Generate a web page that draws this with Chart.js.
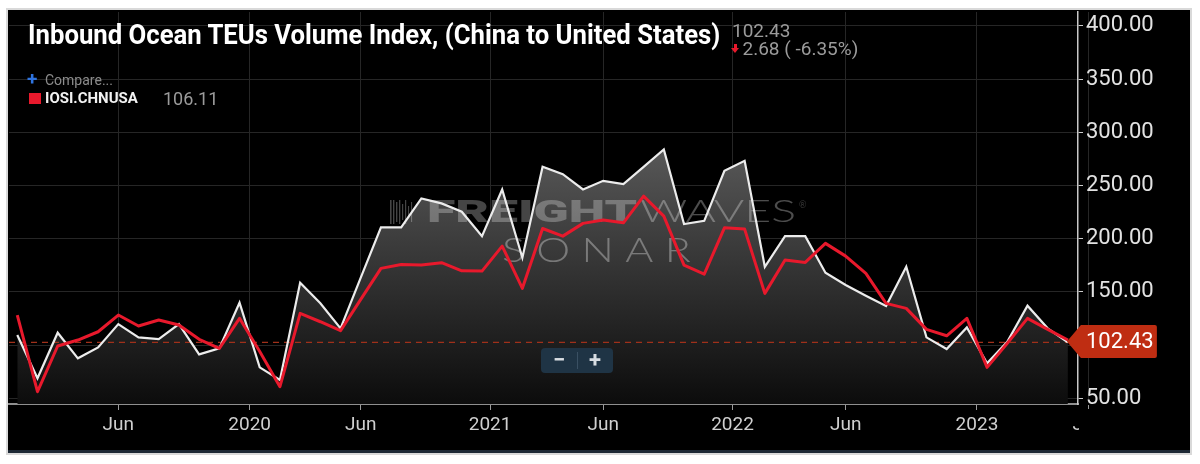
<!DOCTYPE html>
<html>
<head>
<meta charset="utf-8">
<script src="https://cdn.jsdelivr.net/npm/chart.js@4.4.0/dist/chart.umd.min.js"></script>
<style>
  html, body { margin:0; padding:0; background:#ffffff; width:1200px; height:464px; overflow:hidden; font-family: Roboto, "Open Sans", sans-serif; }
  #panel { position:absolute; left:8px; top:10px; width:1182px; height:440px; background:#000; outline:2px solid #d9d9d9; border-bottom:3px solid #1d2935; }
  #c { position:absolute; left:0; top:0; }
  .t { position:absolute; white-space:nowrap; line-height:1; }
  #title { left:28px; top:22px; font-size:27px; font-weight:700; color:#ffffff; transform-origin:0 0; }
  #last { left:732px; top:20.5px; font-size:19px; color:#9b9b9b; }
  #chg { left:742.5px; top:39px; font-size:19px; color:#9b9b9b; }
  #arrStem { position:absolute; left:733.5px; top:43.5px; width:3px; height:4px; background:#e8192c; }
  #arrHead { position:absolute; left:730.5px; top:47.5px; width:0; height:0; border-left:4.5px solid transparent; border-right:4.5px solid transparent; border-top:5px solid #e8192c; }
  #cmpPlus { left:27px; top:69px; font-size:19px; font-weight:700; color:#2f74e0; }
  #cmp { left:45px; top:73px; font-size:14px; color:#8c8c8c; }
  #sq { position:absolute; left:29px; top:92.5px; width:11.5px; height:11.5px; background:#e8192c; }
  #sym { left:45px; top:91px; font-size:15px; font-weight:700; color:#f2f2f2; }
  #symVal { left:163px; top:89.5px; font-size:18px; color:#9b9b9b; }
  #zoomBtns { position:absolute; left:541px; top:348px; width:72px; height:25px; background:#1f3445; border-radius:4px; }
  #zoomBtns span { position:absolute; top:0; width:36px; height:25px; line-height:24px; text-align:center; color:#d8dde2; font-size:22px; font-weight:700; }
  #zoomBtns .div { position:absolute; left:36px; top:4px; width:1px; height:17px; background:#3a5063; }
</style>
</head>
<body>
<div id="panel"><canvas id="c" width="1182" height="440"></canvas></div>

<div class="t" id="title">Inbound Ocean TEUs Volume Index, (China to United States)</div>
<div class="t" id="last">102.43</div>
<div id="arrStem"></div><div id="arrHead"></div>
<div class="t" id="chg">2.68 ( -6.35%)</div>
<div class="t" id="cmpPlus">+</div>
<div class="t" id="cmp">Compare...</div>
<div id="sq"></div>
<div class="t" id="sym">IOSI.CHNUSA</div>
<div class="t" id="symVal">106.11</div>
<div id="zoomBtns"><span style="left:0">&#8722;</span><div class="div"></div><span style="left:36px">+</span></div>

<script>
// ---------------- data ----------------
const months = [
  'Jan 2019','Feb 2019','Mar 2019','Apr 2019','May 2019','Jun 2019','Jul 2019','Aug 2019','Sep 2019','Oct 2019','Nov 2019','Dec 2019',
  'Jan 2020','Feb 2020','Mar 2020','Apr 2020','May 2020','Jun 2020','Jul 2020','Aug 2020','Sep 2020','Oct 2020','Nov 2020','Dec 2020',
  'Jan 2021','Feb 2021','Mar 2021','Apr 2021','May 2021','Jun 2021','Jul 2021','Aug 2021','Sep 2021','Oct 2021','Nov 2021','Dec 2021',
  'Jan 2022','Feb 2022','Mar 2022','Apr 2022','May 2022','Jun 2022','Jul 2022','Aug 2022','Sep 2022','Oct 2022','Nov 2022','Dec 2022',
  'Jan 2023','Feb 2023','Mar 2023','Apr 2023','May 2023'
];
// white line with filled area
const teusIndex = [
  109.4, 68.7, 111.6, 87.5, 97.8, 119.7, 107.2, 105.6, 119.7, 91.2, 96.9, 139.8,
  79.0, 67.1, 158.6, 139.2, 115.7, 163.4, 210.6, 210.6, 237.9, 233.2, 225.3, 202.4,
  246.3, 182.1, 267.6, 260.7, 246.3, 254.4, 251.3, 267.6, 283.9, 213.7, 216.8, 263.8,
  273.2, 173.6, 202.4, 202.4, 168.0, 156.4, 146.3, 136.7, 173.6, 107.2, 96.2, 116.6,
  82.8, 103.1, 137.0, 115.7, 102.43
];
// red line IOSI.CHNUSA
const iosiChnUsa = [
  128.2, 56.1, 99.1, 104.7, 112.5, 128.2, 117.9, 123.5, 118.8, 105.4, 96.9, 125.1,
  94.0, 60.8, 129.8, 121.9, 113.5, 142.9, 172.1, 175.8, 175.2, 177.4, 169.8, 169.5,
  193.0, 153.3, 209.6, 202.4, 214.4, 217.5, 214.9, 240.0, 221.2, 175.2, 166.7, 210.2,
  209.0, 148.6, 179.9, 177.7, 195.6, 183.6, 167.4, 139.2, 134.5, 114.7, 108.7, 125.1,
  79.0, 101.6, 125.1, 114.7, 104.7
];
const xTickValues = [5, 11.5, 17, 23.4, 29, 35.4, 41, 47.5, 53];
const xTickLabels = ['Jun', '2020', 'Jun', '2021', 'Jun', '2022', 'Jun', '2023', 'Jun'];
const yTickValues = [50, 100, 150, 200, 250, 300, 350, 400];
const lastValue = 102.43;
const lastLabel = '102.43';

// ---------------- title fit ----------------
const titleEl = document.getElementById('title');
titleEl.style.transform = 'scaleX(' + (692 / titleEl.scrollWidth) + ')';

// ---------------- plugin ----------------
function fitText(ctx, text, x, base, w) {
  const m = ctx.measureText(text).width;
  ctx.save();
  ctx.translate(x, base);
  ctx.scale(w / m, 1);
  ctx.fillText(text, 0, 0);
  ctx.restore();
}

const decor = {
  id: 'decor',
  beforeDatasetsDraw(chart) {
    const { ctx, chartArea: a, scales: { x, y } } = chart;
    ctx.save();
    // watermark
    const cx = chart.width / 2;
    ctx.textBaseline = 'alphabetic';
    ctx.fillStyle = 'rgba(255,255,255,0.27)';
    const bars = [[0,1.6,24],[3,1.4,24],[6,1.4,20],[9,1.3,24],[12,1.2,16],[15,1.2,24],[18,1.1,12],[21,1.1,20]];
    const bx = cx - 209, by = 190;
    bars.forEach(b => ctx.fillRect(bx + b[0], by + (24 - b[2]) / 2, b[1], b[2]));
    ctx.font = '900 31px Roboto, Lato, sans-serif';
    fitText(ctx, 'FREIGHT', cx - 172, 212, 210);
    ctx.fillStyle = 'rgba(255,255,255,0.30)';
    ctx.font = '300 31px Lato, Roboto, sans-serif';
    fitText(ctx, 'WAVES', cx + 41, 212, 156);
    ctx.font = '300 9px Lato, Roboto, sans-serif';
    ctx.fillText('\u00AE', cx + 200, 198);
    ctx.fillStyle = 'rgba(255,255,255,0.33)';
    ctx.font = '300 34px Lato, Roboto, sans-serif';
    ctx.letterSpacing = '9px';
    fitText(ctx, 'SONAR', cx - 97, 252, 200);
    ctx.letterSpacing = '0px';
    // dashed last-value line
    const yy = y.getPixelForValue(lastValue);
    ctx.strokeStyle = '#a0301a';
    ctx.lineWidth = 1.3;
    ctx.setLineDash([6, 5]);
    ctx.beginPath();
    ctx.moveTo(a.left, yy);
    ctx.lineTo(x.getPixelForValue(teusIndex.length - 1), yy);
    ctx.stroke();
    ctx.restore();
  },
  afterDraw(chart) {
    const { ctx, chartArea: a, scales: { x, y } } = chart;
    ctx.save();
    // clip the x labels that run past the value axis
    ctx.fillStyle = '#000';
    ctx.fillRect(y.left + 1, a.bottom + 5, chart.width - y.left, chart.height - a.bottom);
    // last value badge
    const px = x.getPixelForValue(teusIndex.length - 1);
    const py = y.getPixelForValue(lastValue) - 1;
    const h = 16.5, r = 2, right = px + 89;
    ctx.fillStyle = '#bf2d12';
    ctx.beginPath();
    ctx.moveTo(px - 1, py);
    ctx.lineTo(px + 13, py - h);
    ctx.lineTo(right - r, py - h);
    ctx.quadraticCurveTo(right, py - h, right, py - h + r);
    ctx.lineTo(right, py + h - r);
    ctx.quadraticCurveTo(right, py + h, right - r, py + h);
    ctx.lineTo(px + 13, py + h);
    ctx.closePath();
    ctx.fill();
    ctx.fillStyle = '#ffffff';
    ctx.font = '22px Roboto, sans-serif';
    ctx.textBaseline = 'middle';
    ctx.textAlign = 'left';
    ctx.fillText(lastLabel, y.left + 8, py + 1);
    ctx.restore();
  }
};

// ---------------- chart ----------------
const ctx = document.getElementById('c').getContext('2d');
new Chart(ctx, {
  type: 'line',
  data: {
    datasets: [
      {
        label: 'IOSI.CHNUSA',
        data: iosiChnUsa.map((v, i) => ({ x: i, y: v })),
        borderColor: '#e8192c',
        borderWidth: 3,
        pointRadius: 0,
        fill: false,
        tension: 0,
        borderJoinStyle: 'round',
        order: 0
      },
      {
        label: 'Inbound Ocean TEUs Volume Index',
        data: teusIndex.map((v, i) => ({ x: i, y: v })),
        borderColor: '#ececec',
        borderWidth: 2.2,
        pointRadius: 0,
        tension: 0,
        borderJoinStyle: 'miter',
        fill: 'start',
        backgroundColor: (c) => {
          const a = c.chart.chartArea;
          if (!a) return 'rgba(0,0,0,0)';
          const g = c.chart.ctx.createLinearGradient(0, a.top, 0, a.bottom);
          g.addColorStop(0, 'rgb(128,128,128)');
          g.addColorStop(1, 'rgb(12,12,12)');
          return g;
        },
        order: 1
      }
    ]
  },
  options: {
    responsive: false,
    animation: false,
    events: [],
    layout: { padding: { left: 1, top: 2, right: 0, bottom: 0 } },
    plugins: {
      legend: { display: false },
      tooltip: { enabled: false },
      title: { display: false },
      filler: { drawTime: 'beforeDatasetsDraw' }
    },
    scales: {
      x: {
        type: 'linear',
        position: 'bottom',
        bounds: 'data',
        min: -0.41,
        max: 52.5,
        afterBuildTicks(s) { s.ticks = xTickValues.map(v => ({ value: v })); },
        afterFit(s) { s.height = 46; s.paddingLeft = 0; s.paddingRight = 0; },
        ticks: {
          color: '#cfcfcf',
          font: { family: 'Roboto', size: 19 },
          padding: 4,
          maxRotation: 0,
          autoSkip: false,
          callback: (v, i) => xTickLabels[i]
        },
        grid: { color: '#262626', lineWidth: 1, drawTicks: true, tickLength: 6, tickColor: '#9a9a9a' },
        border: { color: '#8f8f8f', width: 2 }
      },
      y: {
        type: 'linear',
        position: 'right',
        bounds: 'data',
        min: 44.55,
        max: 413.16,
        afterBuildTicks(s) { s.ticks = yTickValues.map(v => ({ value: v })); },
        afterFit(s) { s.width = 112; s.paddingTop = 0; s.paddingBottom = 0; },
        ticks: {
          color: '#e2e2e2',
          font: { family: 'Roboto', size: 22 },
          padding: 3,
          callback: (v) => Number(v).toFixed(2)
        },
        grid: { color: '#262626', lineWidth: 1, tickLength: 5, tickColor: '#cccccc' },
        border: { color: '#c8c8c8', width: 1.5 }
      }
    }
  },
  plugins: [decor]
});
</script>
</body>
</html>
